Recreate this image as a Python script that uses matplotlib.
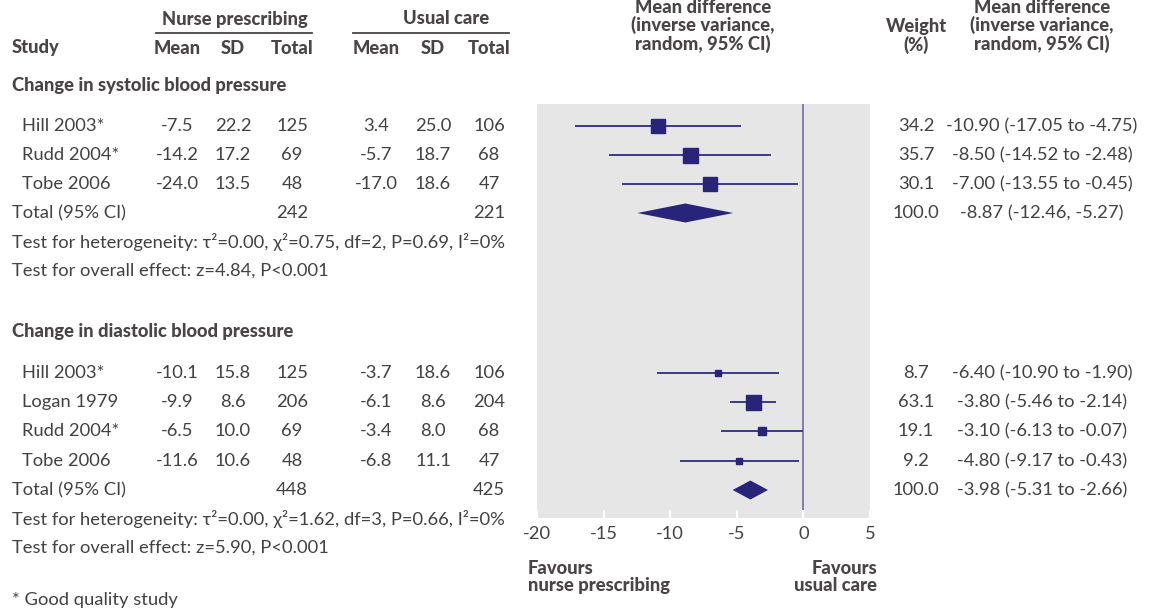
import matplotlib
matplotlib.use('Agg')
import matplotlib.pyplot as plt

plt.rcParams['font.family'] = ['Lato', 'DejaVu Sans']
plt.rcParams['axes.unicode_minus'] = False

# systolic blood pressure
sys_studies = ['Hill 2003*', 'Rudd 2004*', 'Tobe 2006']
sys_nurse_mean = [-7.5, -14.2, -24.0]
sys_nurse_sd = [22.2, 17.2, 13.5]
sys_nurse_n = [125, 69, 48]
sys_usual_mean = [3.4, -5.7, -17.0]
sys_usual_sd = [25.0, 18.7, 18.6]
sys_usual_n = [106, 68, 47]
sys_md = [-10.90, -8.50, -7.00]
sys_lo = [-17.05, -14.52, -13.55]
sys_hi = [-4.75, -2.48, -0.45]
sys_weight = [34.2, 35.7, 30.1]
sys_total = {'nurse_n': 242, 'usual_n': 221, 'md': -8.87, 'lo': -12.46, 'hi': -5.27, 'weight': 100.0}
sys_ci_sep = ', '
sys_het = 'Test for heterogeneity: τ²=0.00, χ²=0.75, df=2, P=0.69, I²=0%'
sys_overall = 'Test for overall effect: z=4.84, P<0.001'

# diastolic blood pressure
dia_studies = ['Hill 2003*', 'Logan 1979', 'Rudd 2004*', 'Tobe 2006']
dia_nurse_mean = [-10.1, -9.9, -6.5, -11.6]
dia_nurse_sd = [15.8, 8.6, 10.0, 10.6]
dia_nurse_n = [125, 206, 69, 48]
dia_usual_mean = [-3.7, -6.1, -3.4, -6.8]
dia_usual_sd = [18.6, 8.6, 8.0, 11.1]
dia_usual_n = [106, 204, 68, 47]
dia_md = [-6.40, -3.80, -3.10, -4.80]
dia_lo = [-10.90, -5.46, -6.13, -9.17]
dia_hi = [-1.90, -2.14, -0.07, -0.43]
dia_weight = [8.7, 63.1, 19.1, 9.2]
dia_total = {'nurse_n': 448, 'usual_n': 425, 'md': -3.98, 'lo': -5.31, 'hi': -2.66, 'weight': 100.0}
dia_ci_sep = ' to '
dia_het = 'Test for heterogeneity: τ²=0.00, χ²=1.62, df=3, P=0.66, I²=0%'
dia_overall = 'Test for overall effect: z=5.90, P<0.001'

x_ticks = [-20, -15, -10, -5, 0, 5]

TEXT = '#424242'
HEAD = '#4a4446'
NAVY = '#27247a'
LINE = '#3b3a8c'
ZERO = '#7f7db5'
GREY = '#e6e6e6'
FS = 13.2

W, H = 1149, 609
fig = plt.figure(figsize=(W / 100, H / 100), dpi=100)
bg = fig.add_axes([0, 0, 1, 1])
bg.set_xlim(0, W)
bg.set_ylim(H, 0)
bg.axis('off')

ax = fig.add_axes([537 / W, (H - 518) / H, (870 - 537) / W, (518 - 104) / H])
ax.set_xlim(-20, 5)
ax.set_ylim(518, 104)
ax.set_facecolor(GREY)
for s in ax.spines.values():
    s.set_visible(False)
ax.set_yticks([])
ax.set_xticks(x_ticks)
ax.tick_params(axis='x', direction='in', length=6, width=1.5, color='white',
               labelcolor=TEXT, labelsize=FS, pad=6)
ax.axvline(0, color=ZERO, lw=1.4, zorder=1)

# column centres (pixels)
cols = {'n_mean': 177, 'n_sd': 233, 'n_tot': 292, 'u_mean': 376, 'u_sd': 433, 'u_tot': 489,
        'weight': 916, 'ci': 1042}


def bold(x, y, s, ha='center', **kw):
    bg.text(x, y, s, ha=ha, va='center', fontsize=FS, fontweight='black', color=HEAD, **kw)


def norm(x, y, s, ha='center'):
    bg.text(x, y, s, ha=ha, va='center', fontsize=FS, color=TEXT)


# header
bold(235, 19, 'Nurse prescribing')
bold(446, 19, 'Usual care')
bg.plot([156, 312], [33, 33], color=HEAD, lw=1.3)
bg.plot([353, 509], [33, 33], color=HEAD, lw=1.3)
bold(12, 48, 'Study', ha='left')
for key, lab in [('n_mean', 'Mean'), ('n_sd', 'SD'), ('n_tot', 'Total'),
                 ('u_mean', 'Mean'), ('u_sd', 'SD'), ('u_tot', 'Total')]:
    bold(cols[key], 48, lab)
bold(703, 26, 'Mean difference\n(inverse variance,\nrandom, 95% CI)', linespacing=1.05)
bold(cols['ci'], 26, 'Mean difference\n(inverse variance,\nrandom, 95% CI)', linespacing=1.05)
bold(cols['weight'], 36, 'Weight\n(%)', linespacing=1.05)


def section(title, title_y, rows_y, studies, nm, nsd, nn, um, usd, un, md, lo, hi, wt,
            total, ci_sep, het, overall):
    bold(12, title_y, title, ha='left')
    wmax = max(wt)
    for i, y in enumerate(rows_y[:len(studies)]):
        norm(22, y, studies[i], ha='left')
        norm(cols['n_mean'], y, f'{nm[i]:.1f}')
        norm(cols['n_sd'], y, f'{nsd[i]:.1f}')
        norm(cols['n_tot'], y, f'{nn[i]}')
        norm(cols['u_mean'], y, f'{um[i]:.1f}')
        norm(cols['u_sd'], y, f'{usd[i]:.1f}')
        norm(cols['u_tot'], y, f'{un[i]}')
        norm(cols['weight'], y, f'{wt[i]:.1f}')
        norm(cols['ci'], y, f'{md[i]:.2f} ({lo[i]:.2f} to {hi[i]:.2f})')
        ax.plot([lo[i], hi[i]], [y, y], color=LINE, lw=1.4, zorder=2)
        side_px = 15 * (wt[i] / wmax) ** 0.5
        ax.plot(md[i], y, marker='s', ms=side_px * 0.72, color=NAVY, mec=NAVY, zorder=3)
    ty = rows_y[len(studies)]
    norm(12, ty, 'Total (95% CI)', ha='left')
    norm(cols['n_tot'], ty, f"{total['nurse_n']}")
    norm(cols['u_tot'], ty, f"{total['usual_n']}")
    norm(cols['weight'], ty, f"{total['weight']:.1f}")
    norm(cols['ci'], ty, f"{total['md']:.2f} ({total['lo']:.2f}{ci_sep}{total['hi']:.2f})")
    ax.fill([total['lo'], total['md'], total['hi'], total['md']],
            [ty, ty - 9.5, ty, ty + 9.5], color=NAVY, lw=0, zorder=3)
    norm(12, rows_y[len(studies) + 1], het, ha='left')
    norm(12, rows_y[len(studies) + 2], overall, ha='left')


section('Change in systolic blood pressure', 85, [126, 155, 184, 213, 242, 271],
        sys_studies, sys_nurse_mean, sys_nurse_sd, sys_nurse_n, sys_usual_mean, sys_usual_sd,
        sys_usual_n, sys_md, sys_lo, sys_hi, sys_weight, sys_total, sys_ci_sep, sys_het, sys_overall)
section('Change in diastolic blood pressure', 331, [373, 402, 431, 461, 490, 519, 548],
        dia_studies, dia_nurse_mean, dia_nurse_sd, dia_nurse_n, dia_usual_mean, dia_usual_sd,
        dia_usual_n, dia_md, dia_lo, dia_hi, dia_weight, dia_total, dia_ci_sep, dia_het, dia_overall)

bold(528, 577, 'Favours\nnurse prescribing', ha='left', linespacing=1.0)
bold(877, 577, 'Favours\nusual care', ha='right', linespacing=1.0, multialignment='right')
norm(12, 600, '* Good quality study', ha='left')

fig.savefig('out.png', dpi=100)
